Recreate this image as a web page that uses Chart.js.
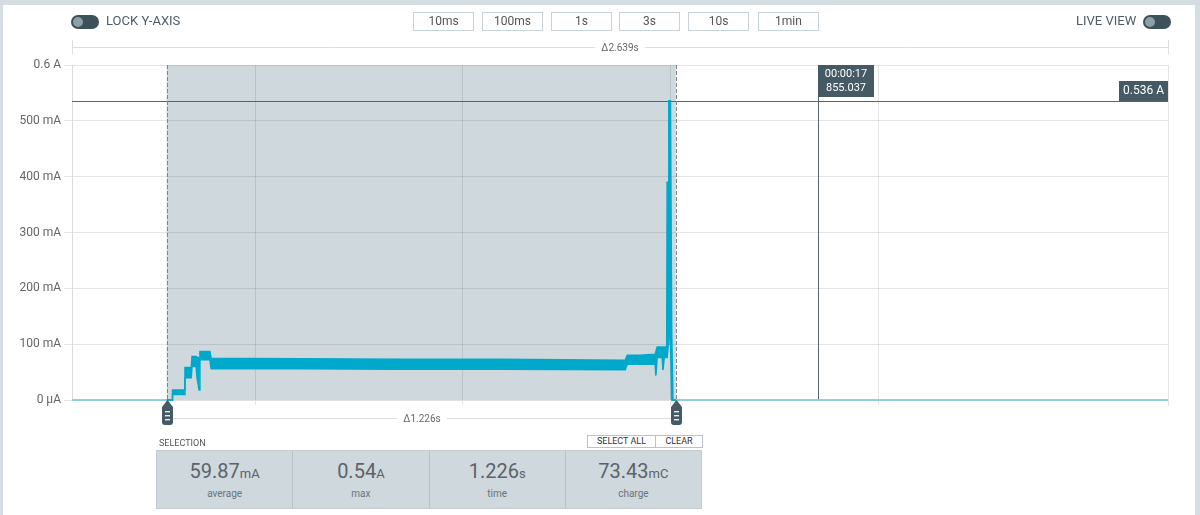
<!DOCTYPE html>
<html>
<head>
<meta charset="utf-8">
<script src="https://cdn.jsdelivr.net/npm/chart.js@4.4.1/dist/chart.umd.min.js"></script>
<style>
html, body { margin: 0; padding: 0; }
body { width: 1200px; height: 515px; background: #d3dde2; font-family: Roboto, "Noto Sans", sans-serif; overflow: hidden; position: relative; }
#panel { position: absolute; left: 3px; top: 5px; width: 1192px; height: 510px; background: #fff; }
#chartWrap { position: absolute; left: 0; top: 0; width: 1200px; height: 515px; }
.toggle { position: absolute; top: 15px; width: 28px; height: 14px; border-radius: 7px; background: #3e505a; }
.toggle::after { content: ''; position: absolute; left: 2px; top: 2px; width: 10px; height: 10px; border-radius: 50%; background: #8d9fa7; }
.tlabel { position: absolute; top: 13px; font-size: 13px; color: #4e5c64; }
.btn { position: absolute; top: 12px; width: 61px; height: 19px; box-sizing: border-box; border: 1px solid #c9d2d6; font-size: 12px; color: #555; text-align: center; line-height: 17px; background: #fff; }
.small { position: absolute; font-size: 9px; color: #555; }
.sbtn { position: absolute; top: 435px; height: 13px; box-sizing: border-box; border: 1px solid #b9c3c8; font-size: 9px; color: #333; text-align: center; line-height: 11px; background: #fff; }
#stats { position: absolute; left: 156px; top: 450px; width: 546px; height: 59px; display: flex; background: #cfd8dc; border: 1px solid #c2ccd1; box-sizing: border-box; }
.cell { flex: 1; text-align: center; border-right: 1px solid #b7c1c6; color: #5b6369; }
.cell:last-child { border-right: none; }
.val { font-size: 20px; margin-top: 9px; line-height: 22px; }
.val span { font-size: 13px; }
.lab { font-size: 10px; color: #6b7479; margin-top: 3px; }
</style>
</head>
<body>
<div id="panel"></div>
<div id="chartWrap"><canvas id="ppkChart" width="1200" height="515"></canvas></div>

<div class="toggle" style="left:71px"></div>
<div class="tlabel" style="left:106px">LOCK Y-AXIS</div>
<div class="btn" style="left:413px">10ms</div>
<div class="btn" style="left:482px">100ms</div>
<div class="btn" style="left:551px">1s</div>
<div class="btn" style="left:619px">3s</div>
<div class="btn" style="left:688px">10s</div>
<div class="btn" style="left:758px">1min</div>
<div class="tlabel" style="left:1076px">LIVE VIEW</div>
<div class="toggle" style="left:1143px"></div>

<div class="small" style="left:159px;top:438px">SELECTION</div>
<div class="sbtn" style="left:587px;width:69px">SELECT ALL</div>
<div class="sbtn" style="left:655px;width:48px">CLEAR</div>
<div id="stats">
  <div class="cell"><div class="val">59.87<span>mA</span></div><div class="lab">average</div></div>
  <div class="cell"><div class="val">0.54<span>A</span></div><div class="lab">max</div></div>
  <div class="cell"><div class="val">1.226<span>s</span></div><div class="lab">time</div></div>
  <div class="cell"><div class="val">73.43<span>mC</span></div><div class="lab">charge</div></div>
</div>

<script>
const timeS = [16.059, 16.287, 16.300, 16.301, 16.329, 16.331, 16.346, 16.348, 16.358, 16.360,
    16.365, 16.367, 16.391, 16.394, 16.608, 16.849, 17.090, 17.391, 17.396, 17.427,
    17.463, 17.465, 17.468, 17.480, 17.482, 17.485, 17.491, 17.492, 17.495, 17.496,
    17.500, 17.503, 17.506, 17.513, 18.698];
const maxMA = [0, 0, 0, 18, 18, 58, 58, 78, 78, 76,
    76, 87, 87, 75, 74, 73, 73, 71, 80, 80,
    82, 82, 95, 95, 95, 95, 95, 390, 390, 536,
    536, 120, 0, 0, 0];
const minMA = [0, 0, 0, 10, 10, 40, 40, 60, 60, 40,
    18, 72, 72, 56, 56, 55, 55, 54, 64, 64,
    64, 44, 76, 76, 54, 76, 76, 76, 100, 110,
    110, 0, 0, 0, 0];

const yTicksMA = [0, 100, 200, 300, 400, 500, 600];
const xGridS = [16.5, 17.0, 17.5, 18.0];
const viewStartS = 16.059, viewEndS = 18.698;
const selStartS = 16.287, selEndS = 17.513;
const cursorTimeS = 17.855037, cursorValueMA = 536;

const strong = 'rgb(0, 168, 204)';
const faint = '#8ccbd9';
const slate = '#455a64';

function inSel(t) { return t >= selStartS && t < selEndS; }

function yLabel(v) {
    if (v === 0) return '0 µA';
    if (v >= 600) return (v / 1000) + ' A';
    return v + ' mA';
}

// Draws selection shading, cursors, handles and delta rulers
const overlay = {
    id: 'overlay',
    beforeDraw(chart) {
        const { ctx, chartArea: a, scales: { x } } = chart;
        const x0 = x.getPixelForValue(selStartS), x1 = x.getPixelForValue(selEndS);
        ctx.save();
        ctx.fillStyle = '#cfd8dc';
        ctx.fillRect(x0, a.top, x1 - x0, a.bottom - a.top);
        ctx.restore();
    },
    beforeDatasetsDraw(chart) {
        const { ctx, chartArea: a, scales: { x, y } } = chart;
        ctx.save();
        ctx.strokeStyle = '#54676f';
        ctx.lineWidth = 1;
        const cy = Math.round(y.getPixelForValue(cursorValueMA)) + 0.5;
        ctx.beginPath(); ctx.moveTo(a.left, cy); ctx.lineTo(a.right, cy); ctx.stroke();
        const cx = Math.round(x.getPixelForValue(cursorTimeS)) + 0.5;
        ctx.beginPath(); ctx.moveTo(cx, a.top); ctx.lineTo(cx, a.bottom); ctx.stroke();
        // right border of plot
        ctx.strokeStyle = '#e3e3e3';
        ctx.beginPath(); ctx.moveTo(a.right + 0.5, a.top); ctx.lineTo(a.right + 0.5, a.bottom + 6); ctx.stroke();
        ctx.restore();
    },
    afterDatasetsDraw(chart) {
        const { ctx, chartArea: a, scales: { x, y } } = chart;
        const x0 = Math.round(x.getPixelForValue(selStartS)) + 0.5;
        const x1 = Math.round(x.getPixelForValue(selEndS)) + 0.5;
        ctx.save();
        // dashed selection edges
        ctx.strokeStyle = '#7d868a';
        ctx.setLineDash([4, 2]);
        [x0, x1].forEach(px => {
            ctx.beginPath(); ctx.moveTo(px, a.top); ctx.lineTo(px, a.bottom); ctx.stroke();
        });
        ctx.setLineDash([]);

        // cursor labels
        ctx.font = '11px Roboto, sans-serif';
        ctx.fillStyle = slate;
        const cx = Math.round(x.getPixelForValue(cursorTimeS));
        ctx.fillRect(cx, a.top, 56, 32);
        const secs = Math.floor(cursorTimeS);
        const ms = ((cursorTimeS - secs) * 1000).toFixed(3);
        ctx.fillStyle = '#fff';
        ctx.textAlign = 'center';
        ctx.textBaseline = 'middle';
        ctx.fillText('00:00:' + String(secs).padStart(2, '0'), cx + 28, a.top + 9);
        ctx.fillText(ms, cx + 28, a.top + 23);

        const cy = Math.round(y.getPixelForValue(cursorValueMA));
        ctx.fillStyle = slate;
        ctx.fillRect(a.right - 49, cy - 20, 49, 20);
        ctx.fillStyle = '#fff';
        ctx.font = '12px Roboto, sans-serif';
        ctx.fillText((cursorValueMA / 1000).toFixed(3) + ' A', a.right - 24.5, cy - 10);

        // delta rulers
        ctx.strokeStyle = '#dedede';
        ctx.fillStyle = '#666';
        ctx.font = '10px Roboto, sans-serif';
        const ruler = (l, r, yy, text, ticks) => {
            const mid = (l + r) / 2;
            const w = ctx.measureText(text).width + 12;
            ctx.beginPath();
            ctx.moveTo(l, yy + 0.5); ctx.lineTo(mid - w / 2, yy + 0.5);
            ctx.moveTo(mid + w / 2, yy + 0.5); ctx.lineTo(r, yy + 0.5);
            if (ticks) {
                ctx.moveTo(l + 0.5, yy - 7); ctx.lineTo(l + 0.5, yy + 7);
                ctx.moveTo(r + 0.5, yy - 7); ctx.lineTo(r + 0.5, yy + 7);
            }
            ctx.stroke();
            ctx.fillText(text, mid, yy + 1);
        };
        ruler(a.left, a.right, 47, 'Δ' + (viewEndS - viewStartS).toFixed(3) + 's', true);
        ruler(x0, x1, 418, 'Δ' + (selEndS - selStartS).toFixed(3) + 's', false);

        // selection handles
        [x0, x1].forEach(px => {
            const t = a.bottom;
            ctx.fillStyle = slate;
            ctx.beginPath();
            ctx.moveTo(px, t);
            ctx.lineTo(px + 5.5, t + 7);
            ctx.lineTo(px + 5.5, t + 22);
            ctx.quadraticCurveTo(px + 5.5, t + 25, px + 2.5, t + 25);
            ctx.lineTo(px - 2.5, t + 25);
            ctx.quadraticCurveTo(px - 5.5, t + 25, px - 5.5, t + 22);
            ctx.lineTo(px - 5.5, t + 7);
            ctx.closePath();
            ctx.fill();
            ctx.fillStyle = '#e8edef';
            [11, 15, 19].forEach(dy => ctx.fillRect(px - 2.5, t + dy, 5, 1.4));
        });
        ctx.restore();
    }
};

const segStyle = { borderColor: c => inSel(c.p0.parsed.x) ? strong : faint };

const data = {
    datasets: [{
        label: 'max',
        data: timeS.map((t, i) => ({ x: t, y: maxMA[i] })),
        borderColor: strong,
        backgroundColor: strong,
        borderWidth: 1.5,
        pointRadius: 0,
        clip: 4,
        fill: '+1',
        segment: segStyle
    }, {
        label: 'min',
        data: timeS.map((t, i) => ({ x: t, y: minMA[i] })),
        borderColor: strong,
        borderWidth: 1.5,
        pointRadius: 0,
        clip: 4,
        fill: false,
        segment: segStyle
    }]
};

const config = {
    type: 'line',
    data: data,
    options: {
        responsive: false,
        animation: false,
        events: [],
        layout: { padding: { left: 0, top: 65, right: 32, bottom: 110 } },
        plugins: { legend: { display: false }, tooltip: { enabled: false } },
        scales: {
            x: {
                type: 'linear',
                min: viewStartS,
                max: viewEndS,
                afterBuildTicks: s => { s.ticks = xGridS.map(v => ({ value: v })); },
                afterFit: s => { s.height = 5; },
                ticks: { display: false },
                grid: { color: 'rgba(0,0,0,0.1)', tickLength: 5 },
                border: { color: '#e0e0e0' }
            },
            y: {
                min: 0,
                max: 600,
                afterBuildTicks: s => { s.ticks = yTicksMA.map(v => ({ value: v })); },
                afterFit: s => { s.width = 72; },
                ticks: { callback: yLabel, color: '#666', font: { family: 'Roboto', size: 12 }, padding: 3 },
                grid: { color: 'rgba(0,0,0,0.1)', tickLength: 8 },
                border: { color: '#dcdcdc' }
            }
        }
    },
    plugins: [overlay]
};

const ctx = document.getElementById('ppkChart').getContext('2d');
const ppkChart = new Chart(ctx, config);
</script>
</body>
</html>
